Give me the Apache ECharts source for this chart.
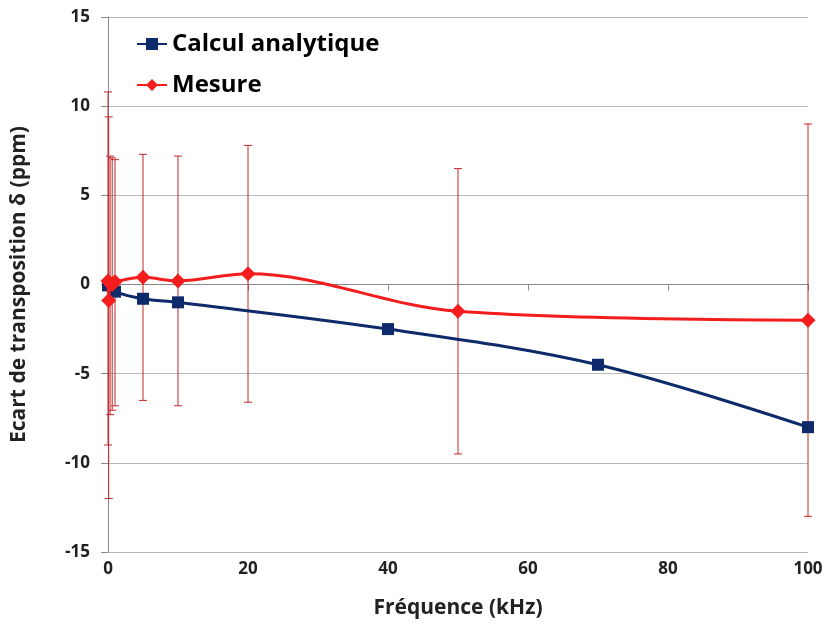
<!DOCTYPE html>
<html>
<head>
<meta charset="utf-8">
<script src="https://cdn.jsdelivr.net/npm/echarts@6/dist/echarts.min.js"></script>
<style>
	html,body{margin:0;padding:0;background:#fff;}
	#chart{width:830px;height:626px;}
</style>
</head>
<body>
<div id="chart"></div>
<script type="text/javascript">
	// données
	var freqCalc = [0, 1, 5, 10, 40, 70, 100];
	var calcul = [-0.05, -0.4, -0.8, -1.0, -2.5, -4.5, -8.0];

	var freqMes = [0, 0.1, 0.3, 0.6, 1, 5, 10, 20, 50, 100];
	var mesure = [0.2, -0.9, 0.05, 0.0, 0.15, 0.4, 0.2, 0.6, -1.5, -2.0];
	var errBas = [-9.0, -12.0, -7.3, -7.05, -6.8, -6.5, -6.8, -6.6, -9.5, -13.0];
	var errHaut = [10.8, 9.4, 7.2, 7.1, 7.0, 7.3, 7.2, 7.8, 6.5, 9.0];

	var xTicks = [0, 20, 40, 60, 80, 100];
	var yTicks = [-15, -10, -5, 0, 5, 10, 15];

	var font = '"Open Sans", "Noto Sans", sans-serif';

	var chart = echarts.init(document.getElementById('chart'));

	var ligneCalc = freqCalc.map(function(f, i){ return [f, calcul[i]]; });
	var ligneMes = freqMes.map(function(f, i){ return [f, mesure[i]]; });
	var barres = freqMes.map(function(f, i){ return [f, errBas[i], errHaut[i]]; });

	var option = {
		animation:false,
		grid:{
			left:108,
			right:22,
			top:17,
			bottom:74,
		},
		legend:{
			orient:'vertical',
			left:131,
			top:27,
			itemGap:17,
			itemWidth:30,
			itemHeight:15,
			textStyle:{
				color:'#000',
				fontSize:24,
				fontWeight:'bold',
				fontFamily:font,
			},
			data:['Calcul analytique','Mesure']
		},
		xAxis:{
			type:'value',
			min:xTicks[0],
			max:xTicks[xTicks.length-1],
			interval:20,
			name:'Fréquence (kHz)',
			nameLocation:'middle',
			nameGap:46,
			nameTextStyle:{
				color:'#222',
				fontSize:21,
				fontWeight:'bold',
				fontFamily:font,
			},
			axisLine:{ lineStyle:{ color:'#8a8a8a', width:1 } },
			axisTick:{ show:true, length:6, lineStyle:{ color:'#8a8a8a' } },
			axisLabel:{
				color:'#222',
				fontSize:17,
				fontWeight:'bold',
				fontFamily:font,
				margin:9,
			},
			splitLine:{ show:false },
		},
		yAxis:{
			type:'value',
			min:yTicks[0],
			max:yTicks[yTicks.length-1],
			interval:5,
			name:'Ecart de transposition δ (ppm)',
			nameLocation:'middle',
			nameRotate:90,
			nameGap:78,
			nameTextStyle:{
				color:'#222',
				fontSize:21,
				fontWeight:'bold',
				fontFamily:font,
			},
			axisLine:{ show:true, lineStyle:{ color:'#8a8a8a', width:1 } },
			axisTick:{ show:true, length:7, lineStyle:{ color:'#8a8a8a' } },
			axisLabel:{
				color:'#222',
				fontSize:17,
				fontWeight:'bold',
				fontFamily:font,
				margin:18,
			},
			splitLine:{ show:true, lineStyle:{ color:'#b8b8b8', width:1 } },
		},
		series:[
			{
				// barres d'erreur de la mesure
				name:'erreur',
				type:'custom',
				z:1,
				silent:true,
				renderItem:function(params, api){
					var x = api.value(0);
					var bas = api.coord([x, api.value(1)]);
					var haut = api.coord([x, api.value(2)]);
					var demi = 4;
					var style = { stroke:'#c0282d', lineWidth:1 };
					return {
						type:'group',
						children:[
							{ type:'line', shape:{ x1:bas[0], y1:bas[1], x2:haut[0], y2:haut[1] }, style:style },
							{ type:'line', shape:{ x1:bas[0]-demi, y1:bas[1], x2:bas[0]+demi, y2:bas[1] }, style:style },
							{ type:'line', shape:{ x1:haut[0]-demi, y1:haut[1], x2:haut[0]+demi, y2:haut[1] }, style:style },
						]
					};
				},
				encode:{ x:0, y:[1,2] },
				data:barres,
			},
			{
				name:'Calcul analytique',
				type:'line',
				z:3,
				smooth:0.35,
				symbol:'rect',
				symbolSize:12,
				lineStyle:{ width:3, color:'#0d2a6b' },
				itemStyle:{ color:'#0d2a6b' },
				data:ligneCalc,
			},
			{
				name:'Mesure',
				type:'line',
				z:4,
				smooth:0.35,
				symbol:'diamond',
				symbolSize:15,
				lineStyle:{ width:3, color:'#f41d1d' },
				itemStyle:{ color:'#f41d1d' },
				data:ligneMes,
			}
		]
	};
	chart.setOption(option);
</script>
</body>
</html>
